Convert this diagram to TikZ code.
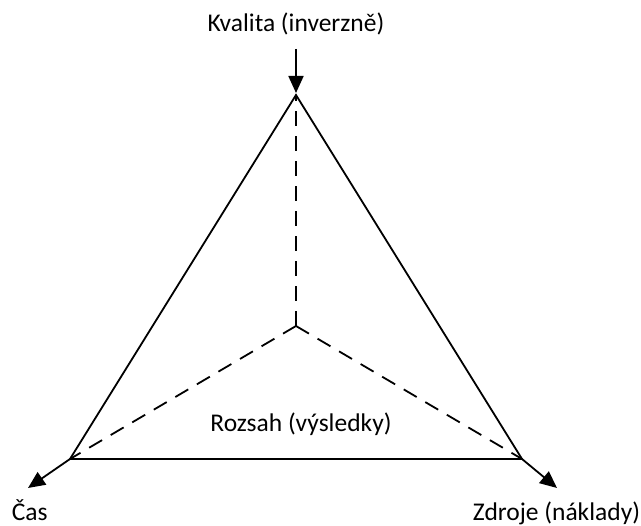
\documentclass[tikz,border=0pt]{standalone}
\usepackage{fontspec}
\setmainfont{Carlito}
\usetikzlibrary{arrows.meta}

\begin{document}
\begin{tikzpicture}[x=1pt,y=-1pt,line width=1.8pt,
    axis/.style={-{Triangle[length=17pt,width=15pt]}},
    inner/.style={dash pattern=on 15pt off 10pt},
    lbl/.style={font=\fontsize{25.5}{30}\selectfont,anchor=base,inner sep=0pt}]
  \useasboundingbox (0,0) rectangle (641,526);
  % corners of the triangle
  \coordinate (top) at (296,95);
  \coordinate (left) at (70,459);
  \coordinate (right) at (522,459);
  \coordinate (mid) at (296,326);
  \coordinate (topstart) at (296,49);
  \coordinate (lefttip) at (28,488);
  \coordinate (righttip) at (557,488);
  % labels
  \node[lbl] (kvalita) at (296,32) {Kvalita (inverzně)};
  \node[lbl,anchor=base west] (cas) at (11,521) {Čas};
  \node[lbl,anchor=base east] (zdroje) at (641,521) {Zdroje (náklady)};
  \node[lbl] (rozsah) at (301,432) {Rozsah (výsledky)};
  % triangle and inner lines
  \draw[line join=miter] (top) -- (left) -- (right) -- cycle;
  \foreach \c in {top,left,right}{\draw[inner] (mid) -- (\c);}
  % arrows
  \draw[axis] (topstart) -- ([yshift=2pt]top);
  \draw[axis] (left) -- (lefttip);
  \draw[axis] (right) -- (righttip);
\end{tikzpicture}
\end{document}
